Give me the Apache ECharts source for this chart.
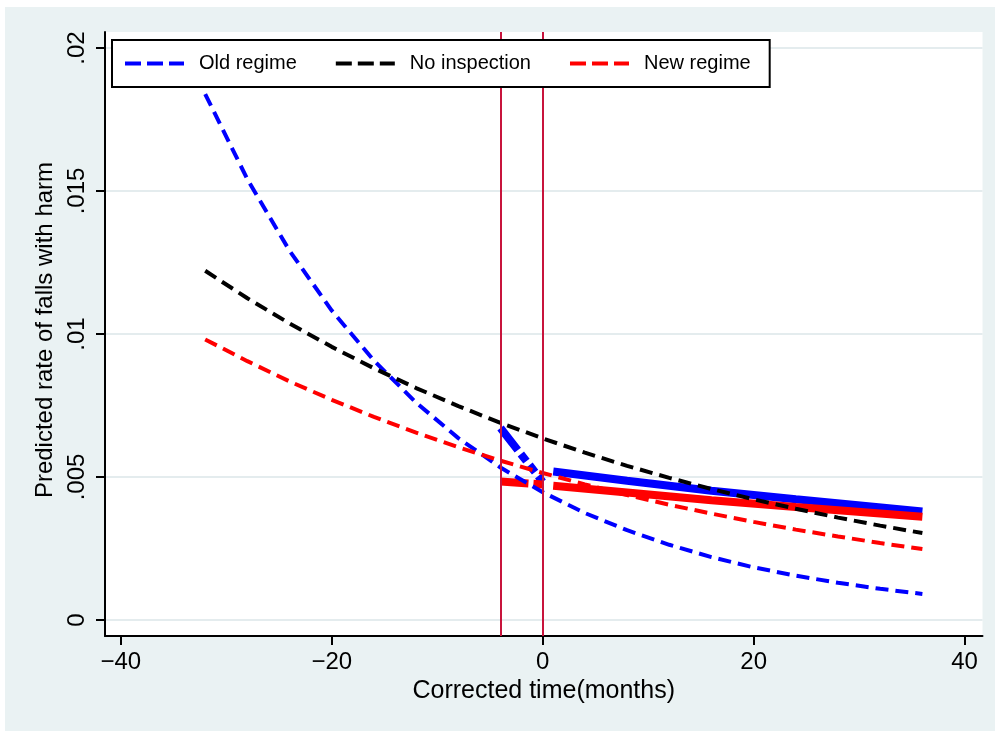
<!DOCTYPE html>
<html>
<head>
<meta charset="utf-8">
<script src="https://cdn.jsdelivr.net/npm/echarts@6/dist/echarts.min.js"></script>
<style>
  html, body { margin: 0; padding: 0; background: #fff; }
  #chart { position: absolute; left: 5px; top: 7px; width: 990px; height: 724px; }
</style>
</head>
<body>
<div id="chart"></div>
<script>
// predicted curves, every 4 months
const months = [-32, -28, -24, -20, -16, -12, -8, -4, 0, 4, 8, 12, 16, 20, 24, 28, 32, 36]
const oldRegime = [0.01839, 0.01541, 0.01291, 0.01082, 0.00907, 0.00760, 0.00636, 0.00533, 0.00447,
  0.00374, 0.00314, 0.00263, 0.00220, 0.00184, 0.00155, 0.00130, 0.00109, 0.00091]
const noInspection = [0.01221, 0.01125, 0.01037, 0.00955, 0.00880, 0.00811, 0.00748, 0.00689, 0.00635,
  0.00585, 0.00539, 0.00497, 0.00458, 0.00422, 0.00389, 0.00358, 0.00330, 0.00304]
const newRegime = [0.00981, 0.00905, 0.00834, 0.00770, 0.00710, 0.00655, 0.00604, 0.00557, 0.00514,
  0.00474, 0.00437, 0.00403, 0.00372, 0.00343, 0.00316, 0.00292, 0.00269, 0.00248]

// thick fitted segments: transition window and after inspection
const transMonths = [-4, -2, 0]
const oldTrans = [0.00671, 0.00577, 0.00483]
const newTrans = [0.00484, 0.00479, 0.00474]
const postMonths = [1, 8, 16, 24, 36]
const oldPost = [0.00519, 0.00487, 0.00452, 0.00422, 0.00379]
const newPost = [0.00469, 0.00446, 0.00419, 0.00395, 0.00361]

const xTicks = [-40, -20, 0, 20, 40]
const yTicks = [0, 0.005, 0.01, 0.015, 0.02]
const vLines = [-4, 0]

const FONT = '"Liberation Sans", Arial, Helvetica, sans-serif'
const BLUE = '#0000ff', BLACK = '#000000', RED = '#ff0000', CRIMSON = '#c8143c'

const chart = echarts.init(document.getElementById('chart'))

function pairs(xs, ys) {
  return xs.map((x, i) => [x, ys[i]])
}

function line(name, xs, ys, color, width, type) {
  return {
    type: 'line',
    name,
    data: pairs(xs, ys),
    symbol: 'none',
    silent: true,
    itemStyle: { color },
    lineStyle: { color, width, type, cap: 'butt' }
  }
}

const thickDash = [28, 5, 9, 5, 9, 5]
const thinDash = [13, 7]

const series = [
  line('Old regime fit', postMonths, oldPost, BLUE, 8, 'solid'),
  line('New regime fit', postMonths, newPost, RED, 8, 'solid'),
  line('Old regime trans', transMonths, oldTrans, BLUE, 8, thickDash),
  line('New regime trans', transMonths, newTrans, RED, 8, thickDash),
  line('Old regime', months, oldRegime, BLUE, 4, thinDash),
  line('No inspection', months, noInspection, BLACK, 4, thinDash),
  line('New regime', months, newRegime, RED, 4, thinDash)
]

// vertical reference lines, drawn under everything
series[0].markLine = {
  silent: true,
  symbol: ['none', 'none'],
  label: { show: false },
  lineStyle: { color: CRIMSON, width: 2, type: 'solid' },
  data: vLines.map(v => ({ xAxis: v }))
}

const option = {
  animation: false,
  backgroundColor: '#eaf2f3',
  grid: {
    left: 100, right: 12.5, top: 25, bottom: 95,
    show: true, backgroundColor: '#ffffff', borderWidth: 0,
    containLabel: false, outerBoundsMode: 'none'
  },
  legend: {
    data: ['Old regime', 'No inspection', 'New regime'],
    left: 107, top: 33,
    orient: 'horizontal',
    itemWidth: 59, itemHeight: 20, itemGap: 37,
    padding: [13.5, 19, 13.5, 11],
    borderColor: '#000', borderWidth: 2,
    backgroundColor: '#fff',
    selectedMode: false,
    itemStyle: { opacity: 0 },
    lineStyle: { type: [16, 6], width: 4 },
    textStyle: { fontSize: 20, color: '#000', fontFamily: FONT, padding: [0, 0, 0, 10] },
    z: 10
  },
  xAxis: {
    type: 'value',
    min: -41.5, max: 41.7,
    name: 'Corrected time(months)',
    nameLocation: 'middle',
    nameGap: 35,
    nameTextStyle: { fontSize: 25, color: '#000', fontFamily: FONT },
    axisLine: { show: true, onZero: false, lineStyle: { color: '#000', width: 2 } },
    axisTick: { show: true, customValues: xTicks, length: 9, lineStyle: { color: '#000', width: 2 } },
    axisLabel: {
      customValues: xTicks, margin: 14, fontSize: 24, color: '#000', fontFamily: FONT,
      formatter: v => (v < 0 ? '\u2212' + (-v) : String(v))
    },
    splitLine: { show: false }
  },
  yAxis: {
    type: 'value',
    min: -0.00056, max: 0.02056,
    name: 'Predicted rate of falls with harm',
    nameLocation: 'middle',
    nameGap: 46,
    nameRotate: 90,
    nameTextStyle: { fontSize: 24, color: '#000', fontFamily: FONT, padding: [0, 0, 0, 8] },
    axisLine: { show: true, onZero: false, lineStyle: { color: '#000', width: 2 } },
    axisTick: { show: true, customValues: yTicks, length: 9, lineStyle: { color: '#000', width: 2 } },
    axisLabel: {
      customValues: yTicks, margin: 16, rotate: 90, fontSize: 24, color: '#000', fontFamily: FONT,
      formatter: v => (v === 0 ? '0' : String(+v.toFixed(3)).replace(/^0\./, '.'))
    },
    splitLine: { show: true, lineStyle: { color: '#e4ecee', width: 2 } }
  },
  series
}

chart.setOption(option)
</script>
</body>
</html>
